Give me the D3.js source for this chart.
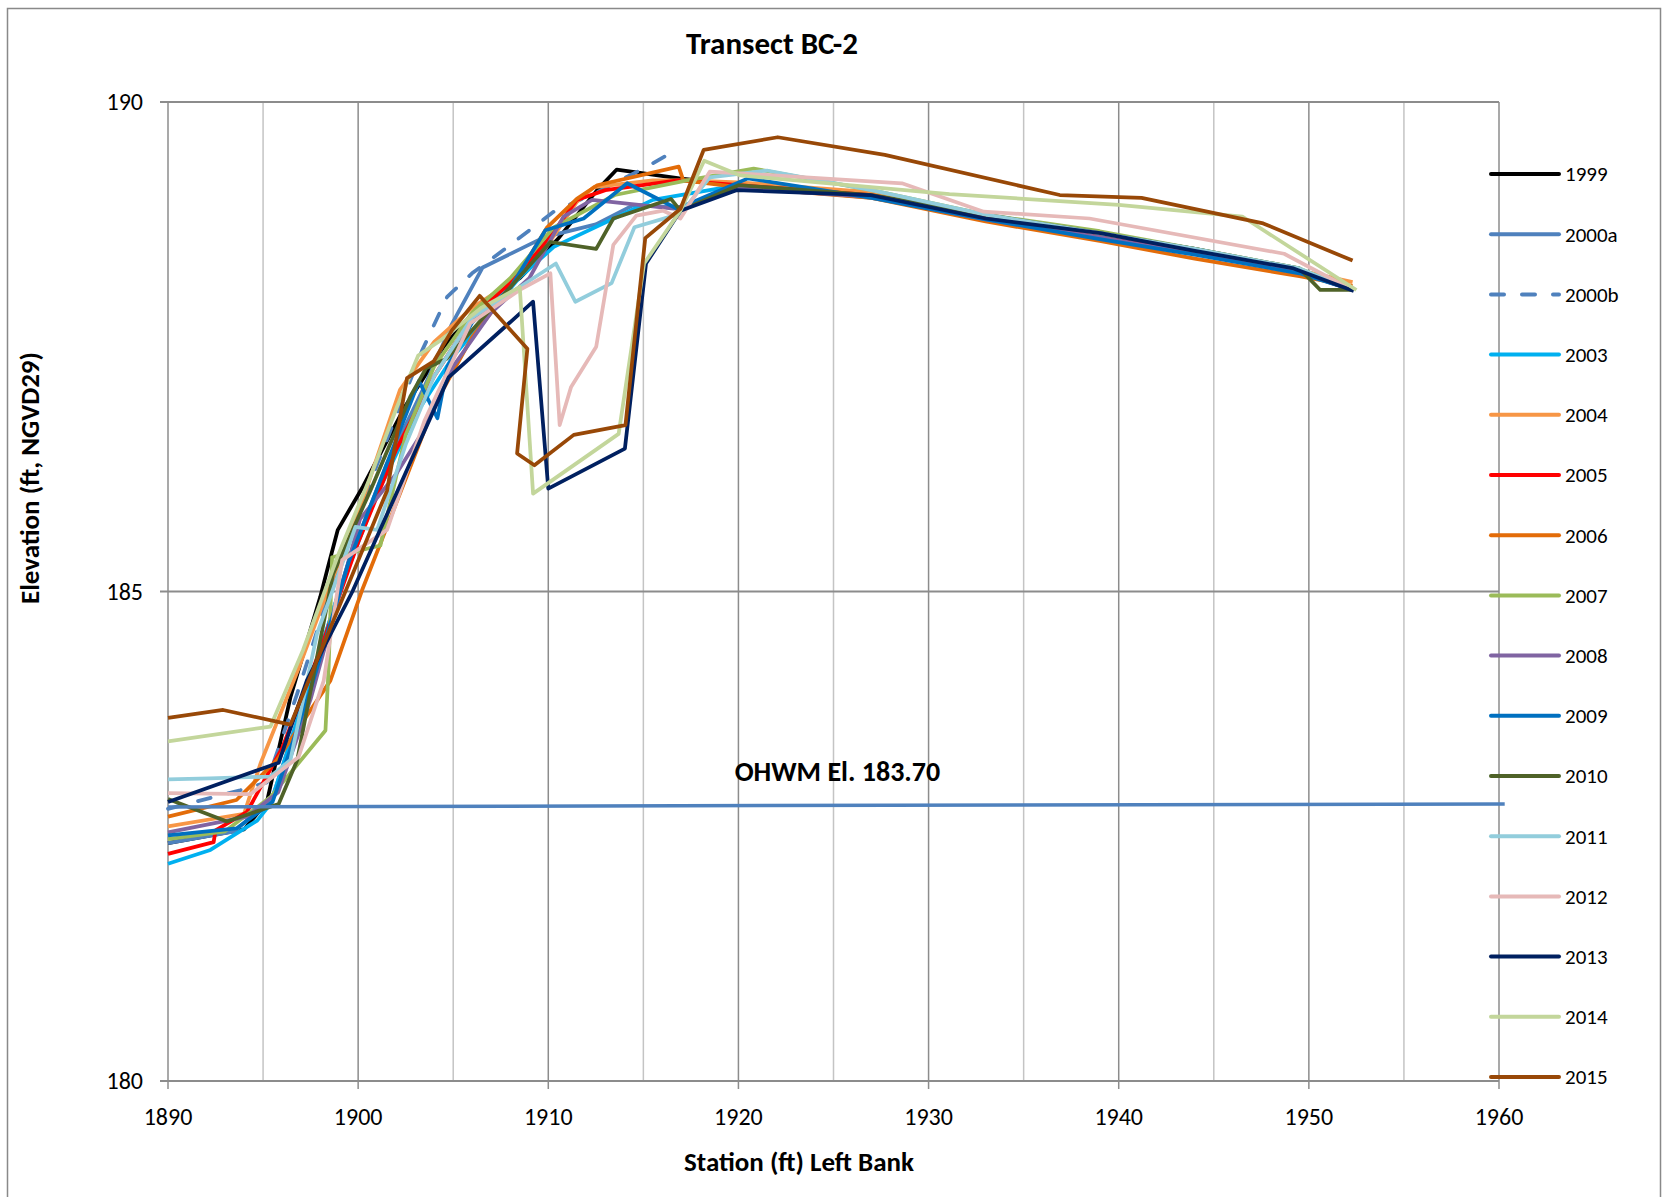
<!DOCTYPE html>
<html>
<head>
<meta charset="utf-8">
<script src="https://cdn.jsdelivr.net/npm/d3@7"></script>
<style>
  body { margin: 0; background: #fff; }
  svg { display: block; font-family: Carlito, Lato, "Liberation Sans", sans-serif; }
</style>
</head>
<body>
<svg id="chart" width="1663" height="1197"></svg>
<script>
// survey years, in legend order
const years = ['1999', '2000a', '2000b', '2003', '2004', '2005', '2006', '2007',
  '2008', '2009', '2010', '2011', '2012', '2013', '2014', '2015'];

// [station ft, elevation ft]
const s1999 = [[1890,182.43],[1894.0,182.57],[1895.2,182.85],[1896.44,183.92],[1898.0,184.94],[1898.4,185.24],[1898.93,185.63],[1900.25,186.07],[1902.5,186.9],[1904.5,187.5],[1906.5,187.95],[1908.5,188.2],[1910.5,188.6],[1912.57,189.10],[1913.6,189.31],[1916.9,189.22],[1920,189.15],[1927,189.05],[1933,188.82],[1939,188.65],[1944,188.5],[1949.5,188.28],[1952.3,188.08]];
const s2000a = [[1890,182.43],[1893.5,182.55],[1895.5,182.9],[1897.5,184.1],[1899.5,185.3],[1901.5,186.3],[1903.5,187.1],[1904.9,187.72],[1906.55,188.31],[1909.8,188.62],[1912.5,188.75],[1914.5,188.95],[1916.9,188.92],[1920,189.15],[1927,189.02],[1933,188.82],[1939,188.62],[1944,188.46],[1949.5,188.26],[1952.3,188.08]];
const s2000b = [[1890,182.78],[1893.8,182.97],[1895.2,183.05],[1896.8,183.96],[1898.5,185.0],[1901,186.3],[1903.36,187.46],[1904.68,188.01],[1905.99,188.25],[1907.66,188.49],[1910.29,188.88],[1912.57,189.08],[1915.2,189.34],[1916.9,189.53]];
const s2003 = [[1890,182.22],[1892.23,182.36],[1894.69,182.66],[1895.39,182.83],[1897.0,183.8],[1899,185.0],[1901,186.0],[1903,186.8],[1905,187.4],[1908.5,188.21],[1910.29,188.52],[1913.44,188.81],[1915.5,189.0],[1920,189.15],[1927,189.05],[1933,188.82],[1939,188.64],[1944,188.47],[1949.5,188.27],[1952.3,188.08]];
const s2004 = [[1890,182.6],[1894.0,182.73],[1894.86,183.24],[1896.96,184.26],[1898.0,184.8],[1900,185.8],[1902.2,187.06],[1904,187.55],[1906,187.9],[1908,188.15],[1910,188.55],[1911.5,188.98],[1912.4,189.13],[1915.5,189.2],[1917.3,189.2],[1920,189.18],[1927,189.08],[1933,188.85],[1939,188.62],[1944,188.45],[1949.5,188.28],[1952.3,188.16]];
const s2005 = [[1890,182.32],[1892.4,182.44],[1892.5,182.56],[1894.16,182.75],[1896,183.4],[1898,184.4],[1900,185.5],[1902,186.45],[1904,187.2],[1906,187.8],[1908,188.15],[1910,188.6],[1911.5,189.0],[1913,189.1],[1916.8,189.2],[1920,189.15],[1927,189.05],[1933,188.82],[1939,188.62],[1944,188.46],[1949.5,188.26],[1952.3,188.08]];
const s2006 = [[1890,182.70],[1893.6,182.87],[1895.74,183.28],[1898.54,184.09],[1900.2,185.01],[1902,185.9],[1904,186.9],[1906,187.6],[1908,188.1],[1909.94,188.72],[1911.5,189.01],[1912.57,189.15],[1916.86,189.34],[1917.1,189.20],[1920,189.13],[1927,189.02],[1933,188.78],[1939,188.58],[1944,188.4],[1949.5,188.22],[1952.3,188.12]];
const s2007 = [[1890,182.47],[1893,182.55],[1895.39,182.9],[1898.28,183.58],[1898.45,184.23],[1898.63,185.35],[1901.17,185.47],[1902.5,186.6],[1904,187.3],[1906,187.85],[1908,188.2],[1910.29,188.72],[1913.5,189.05],[1917.3,189.2],[1920.8,189.32],[1927,189.1],[1933,188.85],[1939,188.68],[1944,188.5],[1949.5,188.3],[1952.3,188.08]];
const s2008 = [[1890,182.54],[1894.16,182.70],[1895.8,182.95],[1897.5,183.9],[1900.1,185.74],[1902,186.2],[1903.45,186.65],[1905,187.3],[1907,187.85],[1909,188.2],[1910.8,188.83],[1912.3,189.0],[1916.6,188.91],[1920,189.12],[1927,189.03],[1933,188.8],[1939,188.62],[1944,188.45],[1949.5,188.27],[1952.3,188.08]];
const s2009 = [[1890,182.51],[1893.6,182.58],[1895.5,182.85],[1897.5,184.0],[1899.5,185.3],[1901.5,186.3],[1903.2,187.15],[1904.17,186.77],[1904.7,187.3],[1906,187.75],[1908,188.1],[1909.85,188.69],[1911.86,188.81],[1914.15,189.17],[1916.78,188.91],[1920.5,189.22],[1927,189.02],[1933,188.8],[1939,188.6],[1944,188.44],[1949.5,188.25],[1952.3,188.08]];
const s2010 = [[1890,182.88],[1893.1,182.65],[1895.82,182.83],[1896.8,183.28],[1898.68,185.18],[1900.64,186.03],[1902.74,186.99],[1903.57,187.28],[1904.67,187.38],[1910.11,188.57],[1912.52,188.50],[1913.42,188.81],[1916.45,189.01],[1916.95,188.89],[1920,189.15],[1927,189.05],[1933,188.85],[1939,188.66],[1944,188.5],[1949.5,188.3],[1950.6,188.08],[1952.3,188.08]];
const s2011 = [[1890,183.08],[1892.2,183.09],[1895.39,183.11],[1896.44,183.28],[1897.84,184.57],[1899.86,185.66],[1901.0,185.63],[1902.5,186.5],[1904,187.2],[1906,187.8],[1908.5,188.11],[1910.4,188.35],[1911.42,187.96],[1913.33,188.15],[1914.53,188.72],[1916.95,188.86],[1918.5,189.23],[1921.5,189.30],[1927,189.1],[1933,188.85],[1939,188.66],[1944,188.5],[1949.5,188.3],[1952.3,188.08]];
const s2012 = [[1890,182.94],[1894.33,182.93],[1896.87,183.31],[1898.19,184.09],[1899.16,185.32],[1901.52,185.63],[1903.5,186.75],[1905.9,187.74],[1908.5,188.08],[1910.11,188.25],[1910.6,186.70],[1911.2,187.09],[1912.52,187.50],[1913.42,188.54],[1914.63,188.84],[1916.04,188.89],[1916.95,188.81],[1918.5,189.29],[1928.6,189.17],[1932.9,188.88],[1938.46,188.81],[1948.7,188.45],[1952.3,188.08]];
const s2013 = [[1890,182.85],[1895.82,183.25],[1897.3,184.09],[1899.7,185.0],[1902.7,186.3],[1904.77,187.19],[1909.2,187.96],[1910.0,186.05],[1914.03,186.46],[1915.14,188.35],[1916.95,188.89],[1919.93,189.10],[1926.9,189.05],[1933.0,188.81],[1939.04,188.66],[1944,188.48],[1949.2,188.30],[1952.36,188.07]];
const s2014 = [[1890,183.47],[1895.39,183.62],[1897.1,184.40],[1898.9,185.35],[1900.64,186.17],[1902.05,186.89],[1903.16,187.41],[1904.37,187.57],[1906.5,187.9],[1908.5,188.11],[1909.2,186.0],[1913.7,186.61],[1915.04,188.35],[1916.95,188.89],[1918.2,189.40],[1920.1,189.25],[1931.1,189.06],[1940,188.95],[1946.5,188.83],[1952.5,188.08]];
const s2015 = [[1890,183.71],[1892.9,183.79],[1896.44,183.64],[1901.52,186.03],[1902.57,187.18],[1903.97,187.35],[1904.94,187.67],[1906.39,188.02],[1908.9,187.48],[1908.36,186.41],[1909.27,186.29],[1911.34,186.60],[1914.06,186.70],[1915.1,188.61],[1916.95,188.91],[1918.17,189.51],[1922.07,189.64],[1927.7,189.46],[1936.9,189.05],[1941.2,189.02],[1947.6,188.76],[1952.3,188.38]];

// ordinary high water mark line, as drawn
const ohwmStation = [1890, 1960.3];
const ohwmElev = [182.80, 182.83];

const xTicks = [1890, 1900, 1910, 1920, 1930, 1940, 1950, 1960];
const yTicks = [180, 185, 190];

const seriesData = [s1999, s2000a, s2000b, s2003, s2004, s2005, s2006, s2007,
  s2008, s2009, s2010, s2011, s2012, s2013, s2014, s2015];
const colors = ['#000000', '#4f81bd', '#4f81bd', '#00b0f0', '#f79646', '#ff0000', '#e36c09', '#9bbb59',
  '#8064a2', '#0070c0', '#4f6228', '#92cddc', '#e6b9b8', '#002060', '#c3d69b', '#984807'];

const svg = d3.select('#chart');
const plotL = 168, plotR = 1499, plotT = 102, plotB = 1081;

const x = d3.scaleLinear().domain([1890, 1960]).range([plotL, plotR]);
const y = d3.scaleLinear().domain([180, 190]).range([plotB, plotT]);

// outer chart border
svg.append('rect').attr('x', 7.5).attr('y', 8.5).attr('width', 1653).attr('height', 1230)
  .attr('fill', 'none').attr('stroke', '#898989').attr('stroke-width', 1.5);

// minor verticals every 5 ft
svg.append('g').selectAll('line').data(d3.range(1895, 1960, 10)).join('line')
  .attr('x1', d => x(d)).attr('x2', d => x(d)).attr('y1', plotT).attr('y2', plotB)
  .attr('stroke', '#c4c4c4').attr('stroke-width', 1.5);

// major verticals + ticks
svg.append('g').selectAll('line').data(xTicks).join('line')
  .attr('x1', d => x(d)).attr('x2', d => x(d)).attr('y1', plotT).attr('y2', plotB + 8)
  .attr('stroke', '#8c8c8c').attr('stroke-width', 1.5);

// horizontal grid + ticks
svg.append('g').selectAll('line').data(yTicks).join('line')
  .attr('x1', plotL - 8).attr('x2', plotR).attr('y1', d => y(d)).attr('y2', d => y(d))
  .attr('stroke', '#8c8c8c').attr('stroke-width', 2);

svg.append('g').selectAll('text').data(yTicks).join('text')
  .attr('x', 143).attr('y', d => y(d)).attr('dy', '0.35em')
  .attr('text-anchor', 'end').attr('font-size', 24).text(d => d);

svg.append('g').selectAll('text').data(xTicks).join('text')
  .attr('x', d => x(d)).attr('y', plotB + 36).attr('dy', '0.35em')
  .attr('text-anchor', 'middle').attr('font-size', 24).text(d => d);

const line = d3.line().x(d => x(d[0])).y(d => y(d[1]));

seriesData.forEach((pts, i) => {
  svg.append('path').datum(pts)
    .attr('d', line)
    .attr('fill', 'none')
    .attr('stroke', colors[i])
    .attr('stroke-width', 3.75)
    .attr('stroke-linejoin', 'round')
    .attr('stroke-linecap', years[i] === '2000b' ? 'round' : 'butt')
    .attr('stroke-dasharray', years[i] === '2000b' ? '13,18' : null);
});

// OHWM
svg.append('path').datum(d3.zip(ohwmStation, ohwmElev))
  .attr('d', line).attr('fill', 'none').attr('stroke', '#4f81bd').attr('stroke-width', 3.5);

svg.append('text').attr('x', x(1919.8)).attr('y', y(183.16)).attr('dy', '0.35em')
  .attr('font-size', 28).attr('font-weight', 'bold').text('OHWM El. 183.70');

// legend
const legend = svg.append('g');
years.forEach((yr, i) => {
  const ly = 174 + i * 60.2;
  legend.append('line').attr('x1', 1491).attr('x2', 1559).attr('y1', ly).attr('y2', ly)
    .attr('stroke', colors[i]).attr('stroke-width', 4).attr('stroke-linecap', 'round')
    .attr('stroke-dasharray', yr === '2000b' ? '13,18' : null);
  legend.append('text').attr('x', 1565).attr('y', ly).attr('dy', '0.35em')
    .attr('font-size', 21).text(yr);
});

// titles
svg.append('text').attr('x', 772).attr('y', 43).attr('dy', '0.35em')
  .attr('text-anchor', 'middle').attr('font-size', 31).attr('font-weight', 'bold')
  .text('Transect BC-2');

svg.append('text').attr('x', 799).attr('y', 1162).attr('dy', '0.35em')
  .attr('text-anchor', 'middle').attr('font-size', 27).attr('font-weight', 'bold')
  .text('Station (ft) Left Bank');

svg.append('text').attr('transform', 'translate(30,478) rotate(-90)').attr('dy', '0.35em')
  .attr('text-anchor', 'middle').attr('font-size', 27).attr('font-weight', 'bold')
  .text('Elevation (ft, NGVD29)');
</script>
</body>
</html>
